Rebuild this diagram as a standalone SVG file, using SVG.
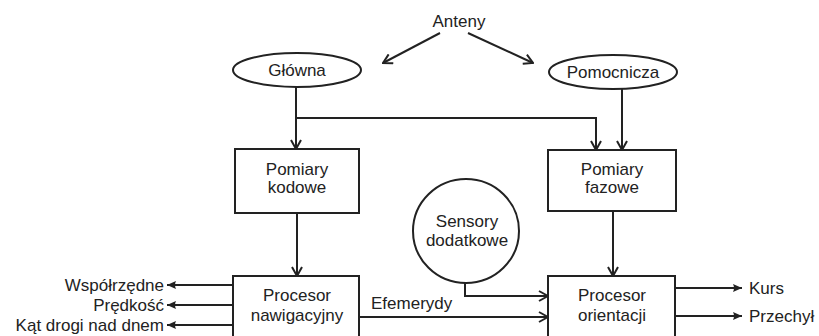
<svg xmlns="http://www.w3.org/2000/svg" width="819" height="336" viewBox="0 0 819 336">
<style>
text{font-family:"Liberation Sans",Arial,sans-serif;font-size:17px;fill:#222}
.n{fill:#fff;stroke:#222;stroke-width:2}
.c{fill:none;stroke:#222;stroke-width:2}
.o{marker-end:url(#open)}
.f{marker-end:url(#fill)}
</style>
<defs>
<marker id="open" markerUnits="userSpaceOnUse" viewBox="0 0 12 12" refX="11" refY="6" markerWidth="12" markerHeight="12" orient="auto">
<path d="M2,1 L11,6 L2,11" fill="none" stroke="#222" stroke-width="2"/>
</marker>
<marker id="fill" markerUnits="userSpaceOnUse" viewBox="0 0 10 10" refX="9" refY="5" markerWidth="10" markerHeight="10" orient="auto">
<path d="M0,1 L9,5 L0,9 Q2,5 0,1 Z" fill="#222"/>
</marker>
</defs>
<rect width="819" height="336" fill="#fff"/>
<g id="connectors">
<line class="c o" x1="440" y1="33" x2="383" y2="63"/>
<line class="c o" x1="468" y1="33" x2="533" y2="63"/>
<path class="c o" d="M296,87 V149"/>
<path class="c o" d="M296,118 H596 V150"/>
<path class="c o" d="M622,89 V150"/>
<path class="c o" d="M297,213 V276"/>
<path class="c o" d="M613,211 V276"/>
<path class="c o" d="M465,283 V296 H548"/>
<path class="c o" d="M359,317 H548"/>
<path class="c f" d="M233,285 H167"/>
<path class="c f" d="M233,305 H167"/>
<path class="c f" d="M233,325 H167"/>
<path class="c f" d="M675,288 H742"/>
<path class="c f" d="M675,316 H742"/>
<text x="371" y="309">Efemerydy</text>
</g>
<g id="anteny"><text x="459" y="27" text-anchor="middle">Anteny</text></g>
<g id="glowna"><ellipse class="n" cx="297" cy="70" rx="64" ry="17"/><text x="297" y="76" text-anchor="middle">Główna</text></g>
<g id="pomocnicza"><ellipse class="n" cx="613" cy="72" rx="64" ry="17"/><text x="613" y="78" text-anchor="middle">Pomocnicza</text></g>
<g id="pomiary-kodowe"><rect class="n" x="235" y="149" width="124" height="64"/><text x="297" y="175" text-anchor="middle">Pomiary</text><text x="297" y="193" text-anchor="middle">kodowe</text></g>
<g id="pomiary-fazowe"><rect class="n" x="548" y="150" width="128" height="61"/><text x="612" y="175" text-anchor="middle">Pomiary</text><text x="612" y="193" text-anchor="middle">fazowe</text></g>
<g id="sensory"><ellipse class="n" cx="466" cy="231" rx="53" ry="52"/><text x="467" y="227" text-anchor="middle">Sensory</text><text x="467" y="246" text-anchor="middle">dodatkowe</text></g>
<g id="procesor-nawigacyjny"><rect class="n" x="233" y="276" width="126" height="80"/><text x="297" y="301" text-anchor="middle">Procesor</text><text x="297" y="321" text-anchor="middle">nawigacyjny</text></g>
<g id="procesor-orientacji"><rect class="n" x="548" y="276" width="127" height="80"/><text x="612" y="301" text-anchor="middle">Procesor</text><text x="612" y="321" text-anchor="middle">orientacji</text></g>
<g id="outputs-left">
<text x="164" y="291" text-anchor="end">Współrzędne</text>
<text x="164" y="311" text-anchor="end">Prędkość</text>
<text x="164" y="331" text-anchor="end">Kąt drogi nad dnem</text>
</g>
<g id="outputs-right">
<text x="749" y="294">Kurs</text>
<text x="749" y="322">Przechył</text>
</g>
</svg>
